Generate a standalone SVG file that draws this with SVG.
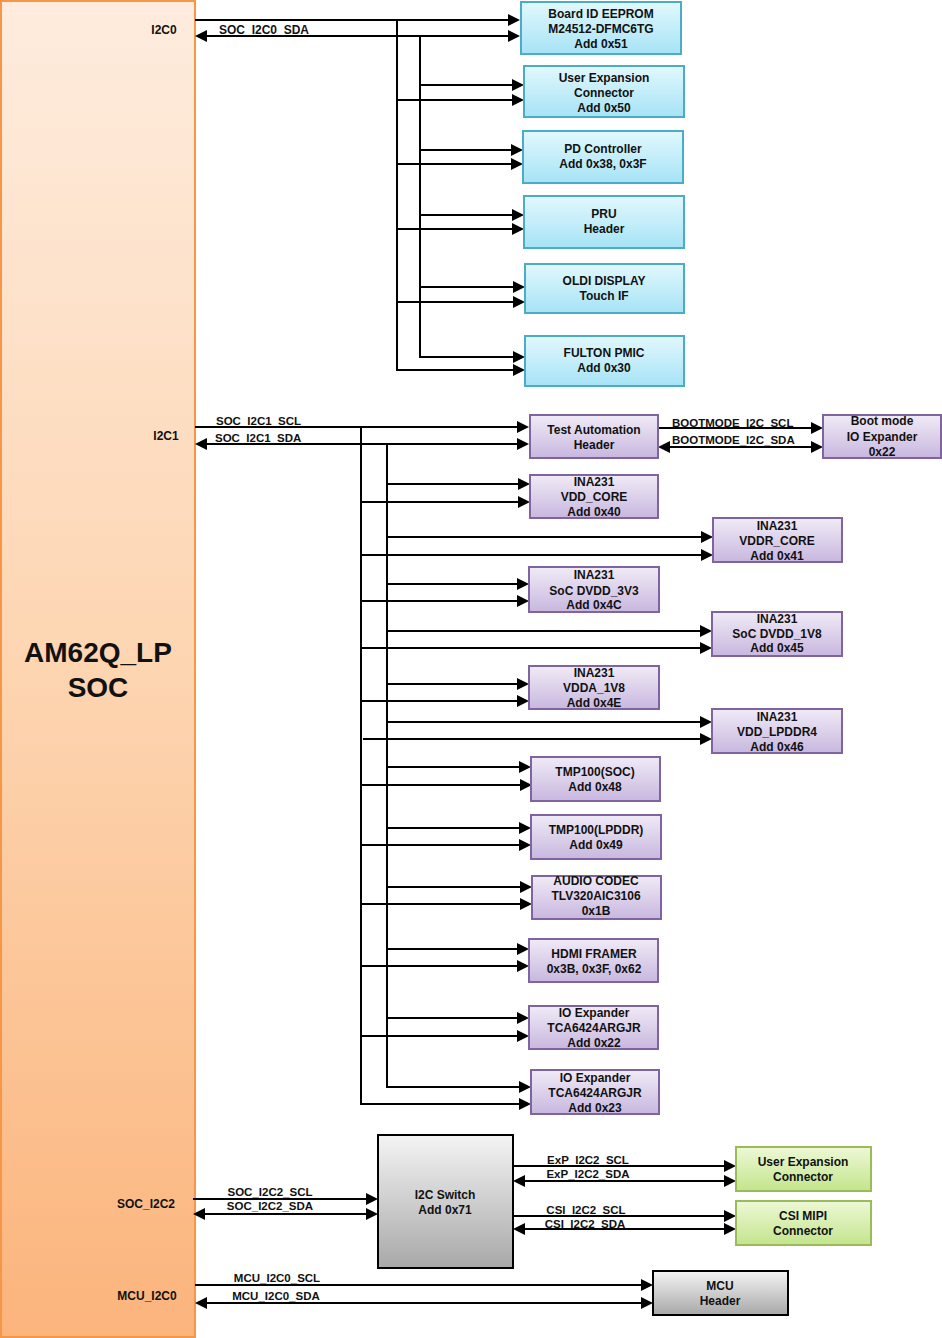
<svg xmlns="http://www.w3.org/2000/svg" width="942" height="1338" viewBox="0 0 942 1338">
<defs>
<linearGradient id="gSoc" x1="0" y1="0" x2="0" y2="1">
<stop offset="0" stop-color="#FEECDE"/><stop offset="0.5" stop-color="#FDD5B1"/><stop offset="1" stop-color="#FBB47C"/>
</linearGradient>
<linearGradient id="gCyan" x1="0" y1="0" x2="0" y2="1">
<stop offset="0" stop-color="#E2F8FD"/><stop offset="1" stop-color="#A6E3F6"/>
</linearGradient>
<linearGradient id="gPurple" x1="0" y1="0" x2="0" y2="1">
<stop offset="0" stop-color="#F0EBF6"/><stop offset="1" stop-color="#C8B7DF"/>
</linearGradient>
<linearGradient id="gGreen" x1="0" y1="0" x2="0" y2="1">
<stop offset="0" stop-color="#EEF8D6"/><stop offset="1" stop-color="#C3E58C"/>
</linearGradient>
<linearGradient id="gGray" x1="0" y1="0" x2="0" y2="1">
<stop offset="0" stop-color="#F4F4F4"/><stop offset="1" stop-color="#A8A8A8"/>
</linearGradient>
<marker id="ah" markerUnits="userSpaceOnUse" markerWidth="12" markerHeight="12" viewBox="0 0 12 12" refX="10" refY="6" orient="auto-start-reverse">
<path d="M0,0 L12,6 L0,12 z" fill="#000"/>
</marker>
<style>
text{font-family:"Liberation Sans",Arial,sans-serif;font-weight:bold;font-size:12px;fill:#111}
.c{text-anchor:middle}
.lbl{font-size:11.5px}
.big{font-size:28px;text-anchor:middle}
.cyan{fill:url(#gCyan);stroke:#4BACC6;stroke-width:2}
.pur{fill:url(#gPurple);stroke:#8064A2;stroke-width:2}
.grn{fill:url(#gGreen);stroke:#9BBB59;stroke-width:2}
.gry{fill:url(#gGray);stroke:#000;stroke-width:2}
#connectors path{fill:none;stroke:#000;stroke-width:2}
.e{marker-end:url(#ah)}
.b{marker-start:url(#ah);marker-end:url(#ah)}
</style>
</defs>
<rect width="942" height="1338" fill="#fff"/>

<g id="soc">
<rect x="1" y="1" width="194" height="1336" fill="url(#gSoc)" stroke="#F79646" stroke-width="2"/>
<text class="big" x="98" y="662">AM62Q_LP</text>
<text class="big" x="98" y="697">SOC</text>
<text class="c" x="164" y="34">I2C0</text>
<text class="c" x="166" y="440">I2C1</text>
<text class="c" x="146" y="1208">SOC_I2C2</text>
<text class="c" x="147" y="1300">MCU_I2C0</text>
</g>

<g id="connectors">
<!-- I2C0 -->
<path class="e" d="M195,20 H518"/>
<path class="b" d="M197,36 H518"/>
<path d="M397,20 V370"/>
<path d="M420,36 V357"/>
<path class="e" d="M420,85 H522"/>
<path class="e" d="M397,100 H522"/>
<path class="e" d="M420,150 H521"/>
<path class="e" d="M397,164 H521"/>
<path class="e" d="M420,215 H522"/>
<path class="e" d="M397,229 H522"/>
<path class="e" d="M420,287 H523"/>
<path class="e" d="M397,302 H523"/>
<path class="e" d="M419,357 H523"/>
<path class="e" d="M396,370 H523"/>
<!-- I2C1 -->
<path class="e" d="M195,427 H527"/>
<path class="b" d="M197,444 H527"/>
<path d="M361,427 V1105"/>
<path d="M387,444 V1088"/>
<path class="e" d="M387,484 H528"/>
<path class="e" d="M361,502 H528"/>
<path class="e" d="M387,537 H711"/>
<path class="e" d="M361,555 H711"/>
<path class="e" d="M387,584 H527"/>
<path class="e" d="M361,601 H527"/>
<path class="e" d="M387,631 H710"/>
<path class="e" d="M361,648 H710"/>
<path class="e" d="M387,684 H527"/>
<path class="e" d="M361,701 H527"/>
<path class="e" d="M387,722 H710"/>
<path class="e" d="M363,739 H710"/>
<path class="e" d="M387,767 H529"/>
<path class="e" d="M361,785 H530"/>
<path class="e" d="M387,828 H529"/>
<path class="e" d="M361,845 H529"/>
<path class="e" d="M387,887 H530"/>
<path class="e" d="M361,904 H530"/>
<path class="e" d="M387,949 H527"/>
<path class="e" d="M361,966 H527"/>
<path class="e" d="M387,1018 H527"/>
<path class="e" d="M361,1036 H527"/>
<path class="e" d="M386,1087 H529"/>
<path class="e" d="M360,1104 H529"/>
<path class="e" d="M658,428 H821"/>
<path class="b" d="M660,447 H821"/>
<!-- I2C2 -->
<path class="e" d="M193,1199 H376"/>
<path class="b" d="M195,1214 H376"/>
<path class="e" d="M513,1166 H734"/>
<path class="b" d="M515,1181 H734"/>
<path class="e" d="M513,1216 H734"/>
<path class="b" d="M515,1229 H734"/>
<!-- MCU -->
<path class="e" d="M195,1285 H651"/>
<path class="b" d="M197,1303 H651"/>
</g>

<g id="bus-labels">
<text x="219" y="34">SOC_I2C0_SDA</text>
<text class="lbl" x="216" y="425">SOC_I2C1_SCL</text>
<text class="lbl" x="215" y="442">SOC_I2C1_SDA</text>
<text class="lbl" x="672" y="427">BOOTMODE_I2C_SCL</text>
<text class="lbl" x="672" y="444">BOOTMODE_I2C_SDA</text>
<text class="lbl c" x="270" y="1196">SOC_I2C2_SCL</text>
<text class="lbl c" x="270" y="1210">SOC_I2C2_SDA</text>
<text class="lbl c" x="277" y="1282">MCU_I2C0_SCL</text>
<text class="lbl c" x="276" y="1300">MCU_I2C0_SDA</text>
<text class="lbl c" x="588" y="1164">ExP_I2C2_SCL</text>
<text class="lbl c" x="588" y="1178">ExP_I2C2_SDA</text>
<text class="lbl c" x="586" y="1214">CSI_I2C2_SCL</text>
<text class="lbl c" x="585" y="1228">CSI_I2C2_SDA</text>
</g>

<g id="eeprom"><rect class="cyan" x="521" y="2" width="160" height="52"/>
<text class="c" x="601" y="18">Board ID EEPROM</text><text class="c" x="601" y="33">M24512-DFMC6TG</text><text class="c" x="601" y="48">Add  0x51</text></g>
<g id="userexp0"><rect class="cyan" x="524" y="66" width="160" height="51"/>
<text class="c" x="604" y="82">User Expansion</text><text class="c" x="604" y="97">Connector</text><text class="c" x="604" y="112">Add  0x50</text></g>
<g id="pd"><rect class="cyan" x="523" y="131" width="160" height="52"/>
<text class="c" x="603" y="153">PD Controller</text><text class="c" x="603" y="168">Add  0x38, 0x3F</text></g>
<g id="pru"><rect class="cyan" x="524" y="196" width="160" height="52"/>
<text class="c" x="604" y="218">PRU</text><text class="c" x="604" y="233">Header</text></g>
<g id="oldi"><rect class="cyan" x="525" y="264" width="159" height="49"/>
<text class="c" x="604" y="285">OLDI  DISPLAY</text><text class="c" x="604" y="300">Touch  IF</text></g>
<g id="pmic"><rect class="cyan" x="525" y="336" width="159" height="50"/>
<text class="c" x="604" y="357">FULTON  PMIC</text><text class="c" x="604" y="372">Add  0x30</text></g>

<g id="testauto"><rect class="pur" x="530" y="415" width="128" height="43"/>
<text class="c" x="594" y="434">Test Automation</text><text class="c" x="594" y="449">Header</text></g>
<g id="bootmode"><rect class="pur" x="823" y="415" width="118" height="43"/>
<text class="c" x="882" y="425">Boot mode</text><text class="c" x="882" y="441">IO Expander</text><text class="c" x="882" y="456">0x22</text></g>
<g id="ina-vddcore"><rect class="pur" x="530" y="475" width="128" height="43"/>
<text class="c" x="594" y="486">INA231</text><text class="c" x="594" y="501">VDD_CORE</text><text class="c" x="594" y="516">Add  0x40</text></g>
<g id="ina-vddrcore"><rect class="pur" x="713" y="518" width="129" height="44"/>
<text class="c" x="777" y="530">INA231</text><text class="c" x="777" y="545">VDDR_CORE</text><text class="c" x="777" y="560">Add  0x41</text></g>
<g id="ina-3v3"><rect class="pur" x="529" y="567" width="130" height="45"/>
<text class="c" x="594" y="579">INA231</text><text class="c" x="594" y="595">SoC  DVDD_3V3</text><text class="c" x="594" y="609">Add  0x4C</text></g>
<g id="ina-1v8"><rect class="pur" x="712" y="612" width="130" height="44"/>
<text class="c" x="777" y="623">INA231</text><text class="c" x="777" y="638">SoC  DVDD_1V8</text><text class="c" x="777" y="652">Add  0x45</text></g>
<g id="ina-vdda"><rect class="pur" x="529" y="666" width="130" height="43"/>
<text class="c" x="594" y="677">INA231</text><text class="c" x="594" y="692">VDDA_1V8</text><text class="c" x="594" y="707">Add  0x4E</text></g>
<g id="ina-lpddr4"><rect class="pur" x="712" y="709" width="130" height="44"/>
<text class="c" x="777" y="721">INA231</text><text class="c" x="777" y="736">VDD_LPDDR4</text><text class="c" x="777" y="751">Add  0x46</text></g>
<g id="tmp-soc"><rect class="pur" x="531" y="757" width="129" height="44"/>
<text class="c" x="595" y="776">TMP100(SOC)</text><text class="c" x="595" y="791">Add  0x48</text></g>
<g id="tmp-lpddr"><rect class="pur" x="531" y="815" width="130" height="44"/>
<text class="c" x="596" y="834">TMP100(LPDDR)</text><text class="c" x="596" y="849">Add  0x49</text></g>
<g id="audio"><rect class="pur" x="532" y="876" width="129" height="43"/>
<text class="c" x="596" y="885">AUDIO  CODEC</text><text class="c" x="596" y="900">TLV320AIC3106</text><text class="c" x="596" y="915">0x1B</text></g>
<g id="hdmi"><rect class="pur" x="529" y="939" width="129" height="43"/>
<text class="c" x="594" y="958">HDMI  FRAMER</text><text class="c" x="594" y="973">0x3B, 0x3F, 0x62</text></g>
<g id="ioexp22"><rect class="pur" x="529" y="1006" width="129" height="43"/>
<text class="c" x="594" y="1017">IO Expander</text><text class="c" x="594" y="1032">TCA6424ARGJR</text><text class="c" x="594" y="1047">Add  0x22</text></g>
<g id="ioexp23"><rect class="pur" x="531" y="1070" width="128" height="44"/>
<text class="c" x="595" y="1082">IO Expander</text><text class="c" x="595" y="1097">TCA6424ARGJR</text><text class="c" x="595" y="1112">Add  0x23</text></g>

<g id="i2cswitch"><rect class="gry" x="378" y="1135" width="135" height="133"/>
<text class="c" x="445" y="1199">I2C Switch</text><text class="c" x="445" y="1214">Add  0x71</text></g>
<g id="userexp2"><rect class="grn" x="736" y="1147" width="135" height="44"/>
<text class="c" x="803" y="1166">User Expansion</text><text class="c" x="803" y="1181">Connector</text></g>
<g id="csi"><rect class="grn" x="736" y="1201" width="135" height="44"/>
<text class="c" x="803" y="1220">CSI  MIPI</text><text class="c" x="803" y="1235">Connector</text></g>
<g id="mcuheader"><rect class="gry" x="653" y="1271" width="135" height="44"/>
<text class="c" x="720" y="1290">MCU</text><text class="c" x="720" y="1305">Header</text></g>
</svg>
